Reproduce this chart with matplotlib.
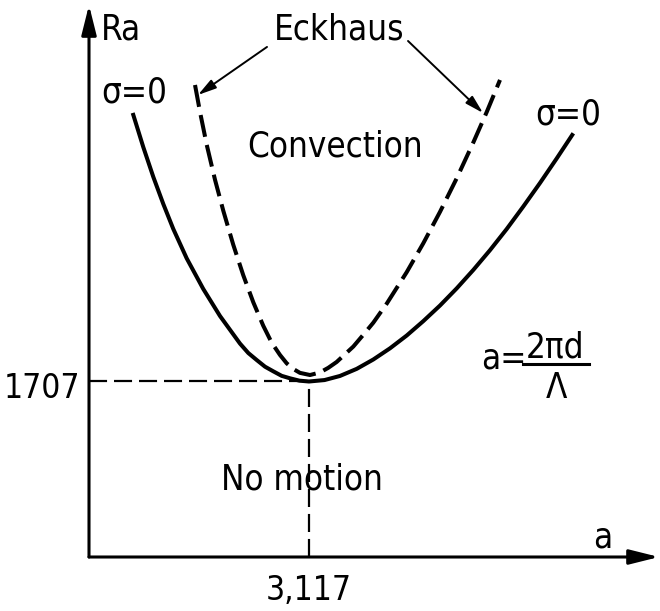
import numpy as np
import matplotlib
matplotlib.use("Agg")
import matplotlib.pyplot as plt
from matplotlib.patches import ArrowStyle

plt.rcParams['font.family'] = ['DejaVu Sans']
plt.rcParams['lines.scale_dashes'] = False

# critical point of the neutral curve
a_c, Ra_c = 3.117, 1707

# neutral stability curve (sigma = 0)
a_neutral = [0.619, 0.769, 0.911, 1.053, 1.194, 1.384, 1.619, 1.856, 2.139, 2.257,
             2.376, 2.494, 2.611, 2.730, 2.848, 2.982, 3.117, 3.337, 3.556, 3.793,
             4.028, 4.265, 4.501, 4.736, 4.973, 5.210, 5.445, 5.681, 5.918, 6.153,
             6.390, 6.626, 6.862]
Ra_neutral = [4319, 3987, 3697, 3433, 3191, 2905, 2607, 2344, 2076, 1984,
              1916, 1851, 1806, 1762, 1738, 1715, 1707, 1721, 1761, 1830,
              1921, 2030, 2154, 2294, 2446, 2613, 2792, 2984, 3190, 3409,
              3638, 3876, 4121]

# Eckhaus stability boundary
a_eckhaus = [1.502, 1.573, 1.668, 1.785, 1.903, 2.044, 2.186, 2.328, 2.469, 2.588,
             2.706, 2.801, 2.894, 2.989, 3.131, 3.273, 3.390, 3.509, 3.745, 3.887,
             4.028, 4.218, 4.501, 4.736, 4.973, 5.210, 5.445, 5.635, 5.823]
Ra_eckhaus = [4591, 4328, 4009, 3670, 3367, 3037, 2740, 2477, 2249, 2085,
              1965, 1884, 1829, 1791, 1770, 1795, 1840, 1897, 2047, 2162,
              2279, 2464, 2770, 3051, 3357, 3684, 4032, 4328, 4640]

fig = plt.figure(figsize=(6.6, 6.11), dpi=100)
ax = fig.add_axes([0, 0, 1, 1])
ax.set_xlim(-1.261, 8.090)
ax.set_ylim(-525.2, 5417.6)
ax.axis('off')

# axes with arrow heads
ax_style = ArrowStyle('-|>', head_length=1.8, head_width=0.45)
ax.annotate('', xy=(0, 5369), xytext=(0, 0),
            arrowprops=dict(arrowstyle=ax_style, mutation_scale=10, lw=2.2,
                            color='black', shrinkA=0, shrinkB=0))
ax.annotate('', xy=(8.076, 0), xytext=(0, 0),
            arrowprops=dict(arrowstyle=ax_style, mutation_scale=10, lw=2.2,
                            color='black', shrinkA=0, shrinkB=0))

# guide lines to the critical point
ax.plot([0, a_c], [Ra_c, Ra_c], color='black', lw=1.6, dashes=(13, 5))
ax.plot([a_c, a_c], [0, Ra_c], color='black', lw=1.6, dashes=(13, 5))

# curves
ax.plot(a_neutral, Ra_neutral, color='black', lw=2.9, solid_capstyle='butt',
        solid_joinstyle='round')
ax.plot(a_eckhaus, Ra_eckhaus, color='black', lw=2.9, dashes=(16, 6),
        dash_capstyle='butt', dash_joinstyle='round')

fs = 25
tkw = dict(fontsize=fs, color='black', fontstretch='condensed')
nkw = dict(tkw, fontsize=24)
ax.text(0.170, 5038, 'Ra', ha='left', va='baseline', **tkw)
ax.text(7.275, 97, 'a', ha='center', va='baseline', **tkw)
ax.text(-1.204, Ra_c - 160, '1707', ha='left', va='baseline', **nkw)
ax.text(a_c, -418, '3,117', ha='center', va='baseline', **nkw)
ax.text(3.542, 5038, 'Eckhaus', ha='center', va='baseline', **tkw)
ax.text(0.170, 4416, 'σ=0', ha='left', va='baseline', **tkw)
ax.text(6.786, 4202, 'σ=0', ha='center', va='baseline', **tkw)
ax.text(3.485, 3891, 'Convection', ha='center', va='baseline', **tkw)
ax.text(3.018, 652, 'No motion', ha='center', va='baseline', **tkw)

# a = 2 pi d / Lambda
ax.text(5.554, 1838, 'a=', ha='left', va='baseline', **tkw)
ax.text(6.602, 1936, '2πd', ha='center', va='baseline', **tkw)
ax.plot([6.149, 7.084], [1882, 1882], color='black', lw=2.2)
ax.text(6.616, 1547, 'Λ', ha='center', va='baseline', **tkw)

# pointers from the Eckhaus label
ptr_style = ArrowStyle('-|>', head_length=1.1, head_width=0.3)
for tail, head in [((2.522, 4961), (1.544, 4494)), ((4.520, 5019), (5.582, 4319))]:
    ax.annotate('', xy=head, xytext=tail,
                arrowprops=dict(arrowstyle=ptr_style, mutation_scale=10, lw=1.4,
                                color='black', shrinkA=0, shrinkB=0))

fig.savefig('out.png', dpi=100)
